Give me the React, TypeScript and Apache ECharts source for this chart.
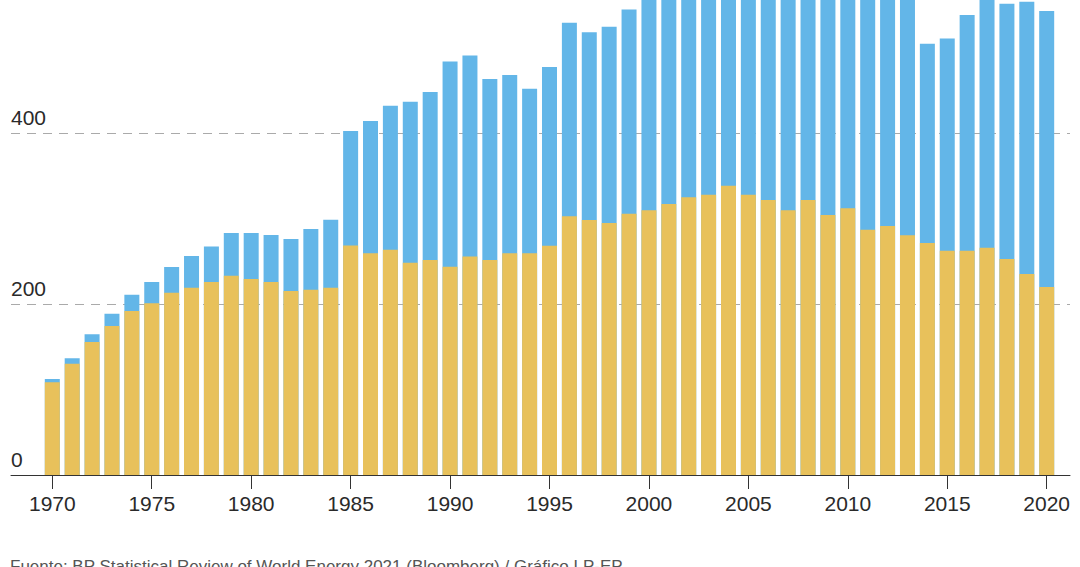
import React, { useEffect, useRef } from "react";
import * as echarts from "echarts";

const years: number[] = [];
for (let y = 1970; y <= 2020; y++) years.push(y);

const yellowValues = [
  108.4, 130.2, 155.6, 174.3, 191.8, 200.8, 213.3, 219.1, 225.7, 233.1,
  229.2, 225.7, 215.2, 216.7, 219.1, 268.5, 259.3, 263.5, 248.3, 251.5,
  243.6, 255.7, 251.5, 259.3, 259.3, 268.2, 302.6, 298.2, 294.7, 305.6,
  309.6, 317.0, 324.8, 327.9, 338.4, 327.9, 321.6, 309.6, 321.6, 304.1,
  311.9, 286.9, 291.2, 280.3, 271.3, 262.3, 262.3, 265.8, 252.6, 235.1,
  219.9,
];

const blueValues = [
  3.9, 6.3, 9.0, 14.4, 19.1, 24.9, 30.0, 37.0, 41.7, 49.9,
  53.8, 55.0, 60.8, 71.0, 79.5, 133.8, 154.7, 168.5, 188.4, 196.5,
  240.2, 235.1, 211.7, 208.5, 192.5, 209.0, 226.4, 219.6, 229.7, 239.0,
  265.4, 268.0, 267.2, 272.1, 271.6, 287.1, 290.4, 308.4, 283.4, 275.9,
  268.1, 285.1, 273.8, 281.7, 233.2, 248.4, 275.7, 299.2, 298.6, 318.5,
  322.8,
];

const xTickYears = [1970, 1975, 1980, 1985, 1990, 1995, 2000, 2005, 2010, 2015, 2020];
const yTickValues = [0, 200, 400];

const sourceText = "Fuente: BP Statistical Review of World Energy 2021 (Bloomberg) / Gráfico LP-EP";

const FONT = "'Liberation Sans', Arial, sans-serif";

export default function App() {
  const ref = useRef<HTMLDivElement>(null);

  useEffect(() => {
    if (!ref.current) return;
    const chart = echarts.init(ref.current, null, { renderer: "svg" });
    // the blue bar covers the whole stack (yellow + blue); the yellow bar is drawn over its lower part
    const totals = yellowValues.map((v, i) => v + blueValues[i]);
    chart.setOption({
      animation: false,
      backgroundColor: "#ffffff",
      grid: { left: 11, right: 10, top: 0, bottom: 92, containLabel: false },
      xAxis: {
        type: "value",
        min: 1967.923,
        max: 2021.172,
        splitLine: { show: false },
        axisLine: { show: true, lineStyle: { color: "#333333", width: 1 } },
        axisTick: {
          show: true,
          customValues: xTickYears,
          length: 14,
          lineStyle: { color: "#333333", width: 1 },
        },
        axisLabel: {
          customValues: xTickYears,
          formatter: (v: number) => String(v),
          fontFamily: FONT,
          fontSize: 21,
          color: "#2a2a2a",
          margin: 18,
        },
      },
      yAxis: {
        type: "value",
        min: 0,
        max: 555.6,
        interval: 200,
        axisLine: { show: false },
        axisTick: { show: false },
        splitLine: {
          show: true,
          showMaxLine: false,
          showMinLine: false,
          lineStyle: { color: "#aaaaaa", width: 1, type: [9, 7] },
        },
        axisLabel: {
          customValues: yTickValues,
          inside: true,
          align: "left",
          verticalAlign: "bottom",
          margin: 0,
          padding: [0, 0, 5, 0],
          fontFamily: FONT,
          fontSize: 21,
          color: "#2a2a2a",
          formatter: (v: number) => String(v),
        },
      },
      series: [
        {
          name: "total",
          type: "bar",
          barWidth: 15,
          barGap: "-100%",
          itemStyle: { color: "#63B6E8" },
          data: years.map((y, i) => [y, totals[i]]),
        },
        {
          name: "yellow",
          type: "bar",
          barWidth: 15,
          barGap: "-100%",
          itemStyle: { color: "#E8C15B" },
          data: years.map((y, i) => [y, yellowValues[i]]),
        },
      ],
      graphic: [
        {
          type: "text",
          left: 10,
          top: 558,
          style: {
            text: sourceText,
            fontFamily: FONT,
            fontSize: 17,
            fill: "#555555",
          },
        },
      ],
    });
    return () => chart.dispose();
  }, []);

  return (
    <div
      ref={ref}
      style={{ position: "fixed", left: 0, top: 0, width: 1080, height: 567 }}
    />
  );
}
